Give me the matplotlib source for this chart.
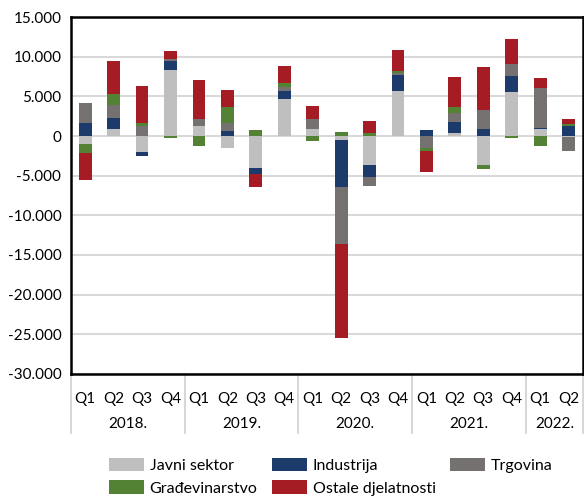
import numpy as np
import matplotlib
matplotlib.use("Agg")
import matplotlib.pyplot as plt
import matplotlib.transforms as mtransforms
from matplotlib.ticker import FuncFormatter

plt.rcParams['font.family'] = ['Lato', 'DejaVu Sans']

# data
quarters = ['Q1', 'Q2', 'Q3', 'Q4'] * 4 + ['Q1', 'Q2']
years = ['2018.', '2019.', '2020.', '2021.', '2022.']
year_len = [4, 4, 4, 4, 2]

javni = [-1000, 850, -2000, 8270, 1200, -1500, -4050, 4700, 900,
         -450, -3700, 5650, 0, 400, -3700, 5500, 850, -100]
industrija = [1700, 1400, -550, 1200, 0, 600, -700, 1000, 0,
              -5950, -1500, 2050, 750, 1350, 900, 2050, 200, 1200]
trgovina = [2400, 1700, 1200, 300, 1000, 1100, 0, 500, 1250,
            -7200, -1100, 250, -1500, 1200, 2350, 1500, 5000, -1750]
gradjevinarstvo = [-1200, 1350, 500, -300, -1200, 1950, 700, 500, -650,
                   550, 350, 200, -350, 700, -400, -300, -1200, 350]
ostale = [-3400, 4200, 4550, 970, 4850, 2100, -1650, 2100, 1650,
          -11900, 1600, 2650, -2750, 3850, 5400, 3150, 1250, 600]

series = [
    ('Javni sektor', javni, '#bfbfbf'),
    ('Industrija', industrija, '#1c3a6a'),
    ('Trgovina', trgovina, '#767171'),
    ('Građevinarstvo', gradjevinarstvo, '#548235'),
    ('Ostale djelatnosti', ostale, '#a51c24'),
]

fig = plt.figure(figsize=(5.84, 4.96), dpi=100)
ax = fig.add_axes([0.1216, 0.246, 0.8764, 0.7197])

x = np.arange(len(quarters))
pos_bottom = np.zeros(len(x))
neg_bottom = np.zeros(len(x))
handles = {}
for name, vals, color in series:
    v = np.array(vals, dtype=float)
    bottom = np.where(v >= 0, pos_bottom, neg_bottom)
    b = ax.bar(x, v, 0.45, bottom=bottom, color=color, label=name, zorder=3)
    handles[name] = b
    pos_bottom += np.where(v > 0, v, 0)
    neg_bottom += np.where(v < 0, v, 0)

ax.set_xlim(-0.5, len(x) - 0.5)
ax.set_ylim(-30000, 15000)
ax.set_yticks(np.arange(-30000, 15001, 5000))
ax.yaxis.set_major_formatter(FuncFormatter(lambda v, p: f"{int(v):,}".replace(',', '.')))
ax.grid(axis='y', color='#d9d9d9', linewidth=1.5, zorder=0)
ax.set_axisbelow(True)
for s in ax.spines.values():
    s.set_linewidth(1.8)
    s.set_color('black')
ax.tick_params(axis='y', length=0, pad=7, labelsize=11)
ax.tick_params(axis='x', length=0, pad=13, labelsize=11)
ax.set_xticks(x)
ax.set_xticklabels(quarters)

# year groups below the quarter labels
trans = mtransforms.blended_transform_factory(ax.transData, ax.transAxes)
edges = np.concatenate([[0], np.cumsum(year_len)]) - 0.5
for e in edges:
    ax.plot([e, e], [0, -0.165], transform=trans, color='#d0d0d0',
            linewidth=1.2, clip_on=False)
for i, yr in enumerate(years):
    mid = (edges[i] + edges[i + 1]) / 2
    ax.text(mid, -0.14, yr, transform=trans, ha='center', va='center', fontsize=11)

order = ['Javni sektor', 'Građevinarstvo', 'Industrija', 'Ostale djelatnosti', 'Trgovina']
fig.legend([handles[n] for n in order], order, ncol=3, loc='lower left',
           bbox_to_anchor=(0.162, -0.028), frameon=False, fontsize=11.5,
           handlelength=2.2, handleheight=0.9, handletextpad=0.35,
           columnspacing=0.9, labelspacing=0.47)

fig.savefig('out.png', dpi=100)
